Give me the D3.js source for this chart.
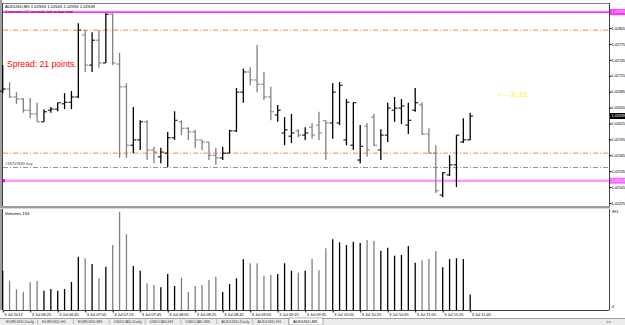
<!DOCTYPE html>
<html>
<head>
<meta charset="utf-8">
<script src="https://cdn.jsdelivr.net/npm/d3@7"></script>
<style>
  body { margin: 0; background: #fff; }
  svg { display: block; font-family: 'Liberation Sans', Arial, sans-serif; }
</style>
</head>
<body>
<script>
// AUDUSD M5, 3 Jul 2012 06:05 .. 11:45
const opens = [1.02686,1.02690,1.02675,1.02671,1.02650,1.02643,1.02628,1.02650,1.02652,1.02662,
  1.02665,1.02675,1.02792,1.02735,1.02782,1.02739,1.02831,1.02737,1.02694,1.02584,
  1.02594,1.02628,1.02575,1.02562,1.02569,1.02598,1.02628,1.02616,1.02609,1.02594,
  1.02590,1.02565,1.02560,1.02569,1.02611,1.02684,1.02722,1.02707,1.02699,1.02675,
  1.02641,1.02607,1.02601,1.02611,1.02603,1.02618,1.02622,1.02630,1.02626,1.02626,
  1.02594,1.02584,1.02556,1.02620,1.02637,1.02575,1.02603,1.02650,1.02654,1.02622,
  1.02650,1.02660,1.02605,1.02569,1.02490,1.02528,1.02547,1.02590,1.02594];
const highs = [1.02735,1.02703,1.02684,1.02673,1.02673,1.02664,1.02652,1.02656,1.02664,1.02682,
  1.02686,1.02814,1.02801,1.02797,1.02801,1.02833,1.02833,1.02758,1.02701,1.02656,
  1.02631,1.02631,1.02581,1.02579,1.02609,1.02648,1.02631,1.02618,1.02613,1.02594,
  1.02590,1.02579,1.02581,1.02613,1.02692,1.02728,1.02731,1.02773,1.02722,1.02694,
  1.02660,1.02637,1.02643,1.02614,1.02618,1.02626,1.02647,1.02631,1.02701,1.02703,
  1.02671,1.02665,1.02622,1.02626,1.02643,1.02614,1.02664,1.02675,1.02671,1.02664,
  1.02692,1.02665,1.02616,1.02584,1.02533,1.02565,1.02603,1.02635,1.02645];
const lows = [1.02682,1.02673,1.02662,1.02645,1.02635,1.02628,1.02628,1.02645,1.02648,1.02652,
  1.02652,1.02673,1.02722,1.02722,1.02730,1.02739,1.02735,1.02560,1.02560,1.02569,
  1.02575,1.02556,1.02550,1.02550,1.02543,1.02594,1.02603,1.02594,1.02579,1.02575,
  1.02556,1.02547,1.02556,1.02569,1.02609,1.02664,1.02697,1.02684,1.02669,1.02631,
  1.02628,1.02584,1.02588,1.02599,1.02594,1.02596,1.02594,1.02556,1.02596,1.02622,
  1.02584,1.02575,1.02550,1.02562,1.02582,1.02556,1.02590,1.02628,1.02624,1.02605,
  1.02647,1.02603,1.02569,1.02494,1.02486,1.02526,1.02505,1.02588,1.02594];
const closes = [1.02690,1.02675,1.02671,1.02650,1.02643,1.02628,1.02647,1.02652,1.02664,1.02665,
  1.02675,1.02801,1.02735,1.02782,1.02739,1.02831,1.02739,1.02694,1.02584,1.02594,
  1.02628,1.02575,1.02571,1.02571,1.02598,1.02631,1.02616,1.02609,1.02594,1.02590,
  1.02565,1.02560,1.02569,1.02611,1.02684,1.02722,1.02707,1.02699,1.02675,1.02647,
  1.02650,1.02613,1.02607,1.02603,1.02607,1.02603,1.02607,1.02626,1.02684,1.02697,
  1.02665,1.02664,1.02582,1.02575,1.02584,1.02603,1.02654,1.02654,1.02658,1.02631,
  1.02664,1.02605,1.02569,1.02498,1.02532,1.02547,1.02603,1.02594,1.02639];
const volumes = [352,260,181,156,245,257,168,184,168,184,
  248,480,466,413,282,389,588,891,686,395,
  352,236,220,199,321,211,288,156,211,220,
  266,297,156,230,282,456,420,420,306,315,
  321,420,352,333,352,459,355,558,640,613,
  588,618,606,634,625,535,563,490,496,579,
  425,447,459,533,383,459,466,459,134];

const priceTicks = [1.02475,1.02505,1.02535,1.02565,1.02595,1.02625,1.02655,1.02685,1.02715,1.02745,1.02775,1.02805];
const timeTickIdx = [0,4,8,12,16,20,24,28,32,36,40,44,48,52,56,60,64,68];
const timeTickLabels = ['3 Jul 2012','3 Jul 06:25','3 Jul 06:45','3 Jul 07:05','3 Jul 07:25','3 Jul 07:45',
  '3 Jul 08:05','3 Jul 08:25','3 Jul 08:45','3 Jul 09:05','3 Jul 09:25','3 Jul 09:45','3 Jul 10:05',
  '3 Jul 10:25','3 Jul 10:45','3 Jul 11:05','3 Jul 11:25','3 Jul 11:45'];
const tabs = ['EURUSD,Daily','EURUSD,H1','EURUSD,M5','USDCAD,Daily','USDCAD,H1','USDCAD,M5','AUDUSD,Daily','AUDUSD,H1','AUDUSD,M5'];

// levels drawn on the chart
const stopHigh = 1.02835, stopLow = 1.02517;
const orangeLevels = [1.02801, 1.02569];
const orderLevel = 1.02542;

const w = 625, h = 325;
const left = 3, right = 609, priceBottom = 206, volTop = 209, volBottom = 310;
const fs = 3.8;

const svg = d3.select('body').append('svg')
  .attr('width', w).attr('height', h);

const bars = d3.range(opens.length).map(i => ({
  i, o: opens[i], h: highs[i], l: lows[i], c: closes[i], v: volumes[i]
}));

const xScale = d3.scaleLinear().domain([0, 68]).range([2.7, 470.2]);
const yScale = d3.scaleLinear().domain([1.02475, 1.02805]).range([203, 28]);
const vScale = d3.scaleLinear().domain([0, 891]).range([volBottom - 1, 212]);
const col = d => d.c >= d.o ? '#000' : '#808080';

// frame
svg.append('rect').attr('x', 0).attr('y', 0).attr('width', 2).attr('height', volBottom)
  .attr('fill', '#a0a0a0');
svg.append('line').attr('x1', left).attr('x2', right).attr('y1', 3.5).attr('y2', 3.5)
  .attr('stroke', '#808080');
svg.append('line').attr('x1', right + 0.5).attr('x2', right + 0.5).attr('y1', 3).attr('y2', volBottom)
  .attr('stroke', '#404040');
svg.append('line').attr('x1', left - 0.5).attr('x2', left - 0.5).attr('y1', 3).attr('y2', volBottom)
  .attr('stroke', '#404040');
svg.append('rect').attr('x', 0).attr('y', priceBottom).attr('width', right + 1).attr('height', volTop - priceBottom)
  .attr('fill', '#d8d8d8');
svg.append('line').attr('x1', 0).attr('x2', right + 1).attr('y1', priceBottom + 1).attr('y2', priceBottom + 1)
  .attr('stroke', '#606060').attr('stroke-width', 1.2);
svg.append('line').attr('x1', left).attr('x2', right).attr('y1', volBottom + 0.5).attr('y2', volBottom + 0.5)
  .attr('stroke', '#404040');

// horizontal levels
const level = (p, color, width, dash) => svg.append('line')
  .attr('x1', left).attr('x2', right).attr('y1', yScale(p)).attr('y2', yScale(p))
  .attr('stroke', color).attr('stroke-width', width).attr('stroke-dasharray', dash);
level(stopHigh, '#ff33ff', 1.6, null);
orangeLevels.forEach(p => level(p, '#ff7f50', 1, '5,2,1,2'));
level(orderLevel, '#909090', 1, '5,2,1,2');
level(stopLow, '#ff99ff', 2.4, null);
svg.append('rect').attr('x', left).attr('y', yScale(stopLow) - 1.5).attr('width', 2).attr('height', 3)
  .attr('fill', '#ff00ff');

// OHLC bars
const g = svg.append('g');
g.selectAll('.hl').data(bars).enter().append('line')
  .attr('x1', d => xScale(d.i)).attr('x2', d => xScale(d.i))
  .attr('y1', d => yScale(d.h)).attr('y2', d => yScale(d.l))
  .attr('stroke', col).attr('stroke-width', 1.3);
g.selectAll('.op').data(bars).enter().append('line')
  .attr('x1', d => xScale(d.i) - 3).attr('x2', d => xScale(d.i))
  .attr('y1', d => yScale(d.o)).attr('y2', d => yScale(d.o))
  .attr('stroke', col).attr('stroke-width', 1);
g.selectAll('.cl').data(bars).enter().append('line')
  .attr('x1', d => xScale(d.i)).attr('x2', d => xScale(d.i) + 3)
  .attr('y1', d => yScale(d.c)).attr('y2', d => yScale(d.c))
  .attr('stroke', col).attr('stroke-width', 1);

// volume bars
svg.selectAll('.vol').data(bars).enter().append('line')
  .attr('x1', d => xScale(d.i)).attr('x2', d => xScale(d.i))
  .attr('y1', d => vScale(d.v)).attr('y2', volBottom)
  .attr('stroke', col).attr('stroke-width', 1.3);

// price axis on the right
const yAxis = d3.axisRight(yScale).tickValues(priceTicks).tickSize(2).tickFormat(d3.format('.5f'));
const ya = svg.append('g').attr('transform', `translate(${right + 0.5},0)`).call(yAxis);
ya.select('.domain').remove();
ya.selectAll('text').attr('x', 2).attr('font-size', fs).attr('fill', '#000');

const tag = (p, bg, fg, txt) => {
  svg.append('rect').attr('x', right + 1).attr('y', yScale(p) - 3).attr('width', 15).attr('height', 6).attr('fill', bg);
  svg.append('text').attr('x', right + 2.5).attr('y', yScale(p) + 1.4).attr('font-size', fs)
    .attr('fill', fg).text(txt);
};
tag(stopHigh, '#ff33ff', '#ffe0ff', '1.02835');
tag(closes[closes.length - 1], '#000', '#fff', d3.format('.5f')(closes[closes.length - 1]));
tag(stopLow, '#ff66ff', '#ffe0ff', '1.02517');

// volume axis labels
svg.append('text').attr('x', right + 3).attr('y', 213).attr('font-size', fs).text(d3.max(volumes));
svg.append('text').attr('x', right + 3).attr('y', volBottom - 2).attr('font-size', fs).text('0');

// time axis
const xAxis = d3.axisBottom(xScale).tickValues(timeTickIdx).tickSize(2)
  .tickFormat((d, i) => timeTickLabels[i]);
const xa = svg.append('g').attr('transform', `translate(0,${volBottom + 0.5})`).call(xAxis);
xa.select('.domain').remove();
xa.selectAll('text').attr('text-anchor', 'start').attr('x', 1).attr('y', 3).attr('font-size', 4).attr('fill', '#000');

// texts
svg.append('text').attr('x', 5).attr('y', 8).attr('font-size', 4.2)
  .text('AUDUSD,M5  1.02594 1.02645 1.02594 1.02639');
svg.append('text').attr('x', 5).attr('y', 12.5).attr('font-size', 4.2).attr('fill', '#800000')
  .text('3 minutes 22 seconds left to bar end');
svg.append('text').attr('x', 7).attr('y', 67).attr('font-size', 8.6).attr('fill', '#ff0000')
  .text('Spread: 21 points.');
svg.append('text').attr('x', 498).attr('y', 96.5).attr('font-size', 7)
  .attr('font-family', 'Liberation Mono, monospace').attr('fill', '#ffee00').text('<--3:22');
svg.append('text').attr('x', 5).attr('y', yScale(orderLevel) - 2).attr('font-size', 4)
  .attr('fill', '#404040').text('#18707849 buy');
svg.append('text').attr('x', 5).attr('y', 215).attr('font-size', 4.2).text('Volumes ' + volumes[volumes.length - 1]);

// tabs
const tabRow = svg.append('g').attr('transform', 'translate(0,318)');
tabRow.append('rect').attr('width', w).attr('height', 7).attr('fill', '#ececec');
tabRow.append('line').attr('x1', 0).attr('x2', w).attr('y1', 0.5).attr('y2', 0.5).attr('stroke', '#a0a0a0');
const tabX = d3.scalePoint().domain(tabs).range([3, 290]);
tabs.forEach((t, i) => {
  const x0 = tabX(t);
  if (i === tabs.length - 1) {
    tabRow.append('rect').attr('x', x0 - 1).attr('y', 0).attr('width', 34).attr('height', 7)
      .attr('fill', '#fff').attr('stroke', '#808080').attr('stroke-width', 0.6);
  } else {
    tabRow.append('line').attr('x1', x0 + 34.5).attr('x2', x0 + 34.5).attr('y1', 1.5).attr('y2', 6)
      .attr('stroke', '#909090').attr('stroke-width', 0.6);
  }
  tabRow.append('text').attr('x', x0 + 3).attr('y', 5).attr('font-size', 4.2)
    .attr('fill', i === tabs.length - 1 ? '#000' : '#444').text(t);
});
tabRow.append('text').attr('x', 606).attr('y', 5).attr('font-size', 4).attr('fill', '#888').text('◂ ▸');
</script>
</body>
</html>
